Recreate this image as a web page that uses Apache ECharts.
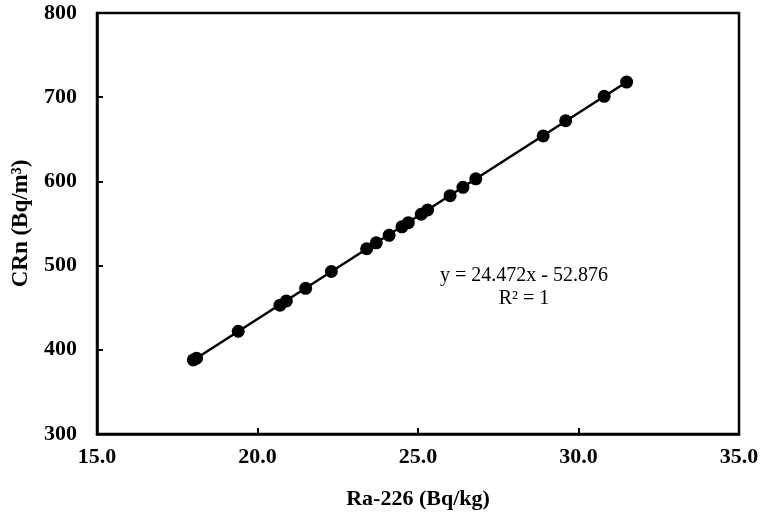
<!doctype html>
<html>
    <head>
        <meta charset="utf-8">
        <style>
            html, body { margin: 0; padding: 0; background: #fff; }
            #main { width: 762px; height: 523px; }
        </style>
    </head>
    <body>
        <div id="main"></div>
        <script src="https://cdn.jsdelivr.net/npm/echarts@6/dist/echarts.min.js"></script>
        <script>
            // Ra-226 (Bq/kg) vs CRn (Bq/m3)
            var ra226 = [18.0, 18.1, 19.4, 20.7, 20.9, 21.5, 22.3, 23.4, 23.7, 24.1, 24.5, 24.7,
                         25.1, 25.3, 26.0, 26.4, 26.8, 28.9, 29.6, 30.8, 31.5];
            var crn = [388, 390, 422, 453, 458, 473, 493, 520, 527, 536, 546, 551,
                       561, 566, 583, 593, 603, 654, 672, 701, 718];
            // trendline end points as drawn
            var trendX = [18.0, 31.5];
            var trendY = [387.6, 718.0];
            var equationText = 'y = 24.472x - 52.876';
            var r2Text = 'R² = 1';

            var FONT = '"Liberation Serif", "Times New Roman", serif';

            var points = ra226.map(function (x, i) { return [x, crn[i]]; });
            var trend = trendX.map(function (x, i) { return [x, trendY[i]]; });

            var chart = echarts.init(document.getElementById('main'));

            chart.setOption({
                animation: false,
                backgroundColor: '#fff',
                grid: {
                    left: 97, right: 23, top: 13, bottom: 89,
                    show: true,
                    borderColor: '#000',
                    borderWidth: 2.5
                },
                xAxis: {
                    type: 'value',
                    min: 15, max: 35, interval: 5,
                    name: 'Ra-226 (Bq/kg)',
                    nameLocation: 'middle',
                    nameGap: 54,
                    nameTextStyle: { fontFamily: FONT, fontWeight: 'bold', fontSize: 22, color: '#000' },
                    axisLine: { lineStyle: { color: '#000', width: 2.5 } },
                    axisTick: { inside: true, length: 6, lineStyle: { color: '#000', width: 2 } },
                    axisLabel: {
                        margin: 12,
                        fontFamily: FONT, fontWeight: 'bold', fontSize: 22, color: '#000',
                        formatter: function (v) { return v.toFixed(1); }
                    },
                    splitLine: { show: false }
                },
                yAxis: {
                    type: 'value',
                    min: 300, max: 800, interval: 100,
                    name: 'CRn (Bq/m³)',
                    nameLocation: 'middle',
                    nameRotate: 90,
                    nameGap: 64,
                    nameTextStyle: { fontFamily: FONT, fontWeight: 'bold', fontSize: 23, color: '#000' },
                    axisLine: { lineStyle: { color: '#000', width: 2.5 } },
                    axisTick: { inside: true, length: 6, lineStyle: { color: '#000', width: 2 } },
                    axisLabel: {
                        margin: 20,
                        fontFamily: FONT, fontWeight: 'bold', fontSize: 22, color: '#000'
                    },
                    splitLine: { show: false }
                },
                graphic: [{
                    type: 'text',
                    x: 524, y: 264,
                    style: {
                        text: equationText + '\n' + r2Text,
                        align: 'center',
                        verticalAlign: 'top',
                        font: '20px ' + FONT,
                        fill: '#000',
                        lineHeight: 23
                    }
                }],
                series: [{
                    type: 'line',
                    data: trend,
                    symbol: 'none',
                    silent: true,
                    lineStyle: { color: '#000', width: 2.5 },
                    z: 1
                }, {
                    type: 'scatter',
                    data: points,
                    symbol: 'circle',
                    symbolSize: 13,
                    itemStyle: { color: '#000', opacity: 1 },
                    z: 2
                }]
            });

            window.addEventListener('resize', function () {
                chart.resize();
            });
        </script>
    </body>
</html>
